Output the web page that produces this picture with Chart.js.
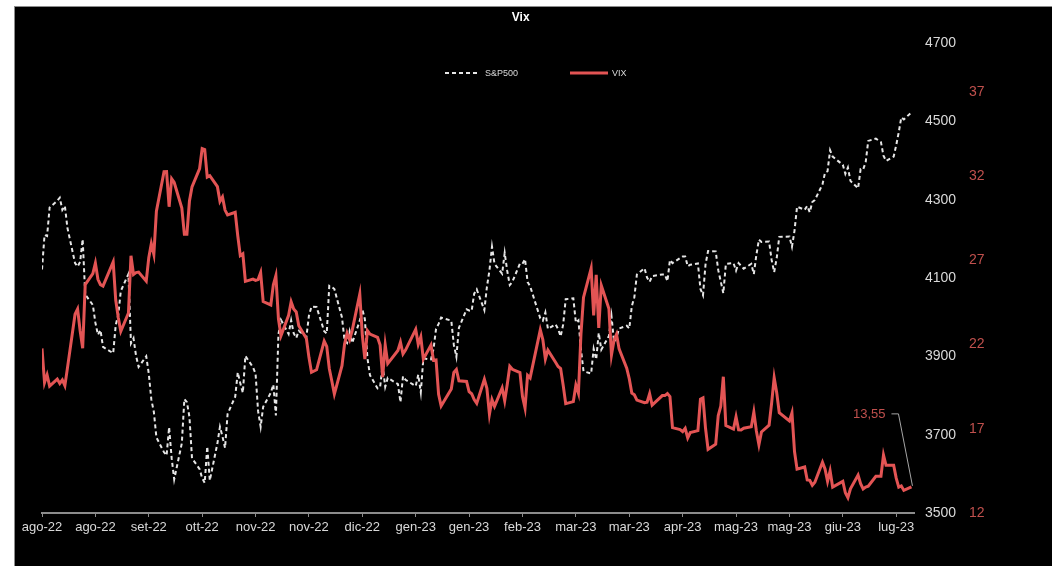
<!DOCTYPE html>
<html>
<head>
<meta charset="utf-8">
<script src="https://cdn.jsdelivr.net/npm/chart.js@4.4.1/dist/chart.umd.min.js"></script>
<style>
html,body{margin:0;padding:0;background:#fff;width:1052px;height:566px;overflow:hidden}
#panel{position:absolute;left:14px;top:6px;width:1038px;height:560px;background:#000;border-left:1px solid #8c8c8c;border-top:1px solid #8c8c8c;box-sizing:border-box}
#c{display:block;width:1037px;height:559px}
</style>
</head>
<body>
<div id="panel"><canvas id="c" width="1037" height="559"></canvas></div>
<script>
const titleText = 'Vix';
const seriesNames = ['S&P500', 'VIX'];
const tickLabels = ['ago-22','ago-22','set-22','ott-22','nov-22','nov-22','dic-22','gen-23','gen-23','feb-23','mar-23','mar-23','apr-23','mag-23','mag-23','giu-23','lug-23'];
const tickStepDays = 21;
const axisEndDay = 343;
const spxTicks = [3500,3700,3900,4100,4300,4500,4700];
const vixTicks = [12,17,22,27,32,37];
const startDate = '2022-08-09';
const endDate = '2023-07-17';
const holidays = ['2022-09-05','2022-11-24','2022-12-26','2023-01-02','2023-01-16','2023-02-20','2023-04-07','2023-05-29','2023-06-19','2023-07-04'];

const spxValues = [
4122,4210,4207,4280,4297,4305,4274,4284,4228,4138,4129,4141,4199,4058,4031,3986,3955,
3967,3924,3908,3980,4006,4067,4110,3933,3946,3901,3873,3900,3856,3790,3758,3693,3655,3647,3719,3640,3586,
3678,3791,3783,3745,3640,3612,3589,3577,3670,3583,3678,3720,3695,3666,3753,3797,3859,3831,3807,3901,3872,
3856,3760,3720,3771,3807,3828,3749,3956,3993,3957,3992,3959,3947,3965,3950,4004,4027,4026,3964,3958,4080,
4077,4072,3999,3941,3934,3964,3934,3991,4020,3995,3896,3852,3818,3822,3878,3822,3845,3829,3783,3849,3840,
3824,3853,3808,3895,3892,3919,3970,3983,3999,3991,3929,3899,3973,4020,4017,4016,4060,4071,4018,4077,
4119,4180,4136,4111,4164,4118,4082,4090,4137,4136,4148,4090,4079,3997,3991,4012,3970,3982,3970,
3951,3981,4046,4048,3986,3992,3918,3862,3856,3919,3892,3960,3917,3952,4003,3937,3949,3971,3978,3971,4028,4051,4109,
4125,4101,4090,4105,4109,4109,4092,4146,4138,4151,4155,4155,4130,4134,4137,4072,4056,4135,4169,
4168,4120,4091,4061,4136,4138,4119,4138,4131,4124,4136,4110,4159,4198,4192,4193,4146,4115,4151,4205,4206,4180,
4221,4282,4274,4284,4268,4294,4299,4339,4369,4373,4426,4410,4389,4366,4382,4348,4329,4378,4377,4396,4450,
4456,4447,4412,4399,4410,4439,4472,4510,4505,4523
];

const vixValues = [
21.77,19.74,20.20,19.53,19.95,19.69,19.90,19.56,20.60,23.80,24.11,22.82,21.78,25.56,26.21,26.83,25.87,
25.56,25.47,26.91,24.64,23.61,22.79,23.87,27.27,26.16,26.27,26.30,25.76,27.16,27.99,27.35,29.92,32.26,32.27,30.18,31.84,31.62,
30.10,28.55,28.55,30.52,31.36,32.45,33.63,33.57,31.94,32.02,31.37,30.50,30.76,29.98,29.69,29.85,28.46,27.28,27.39,25.75,25.88,
25.81,25.86,26.27,24.55,24.35,25.54,26.09,23.53,22.52,23.73,24.54,24.11,23.93,23.12,22.36,21.24,20.35,20.50,22.21,21.89,20.58,
19.84,19.06,20.75,22.01,22.68,22.29,22.83,25.00,22.55,21.14,22.83,22.62,22.42,21.97,20.07,21.97,20.87,21.65,22.14,21.44,21.67,
22.90,22.01,22.46,21.13,21.97,21.07,21.09,19.04,18.35,19.36,20.34,20.52,19.85,19.81,19.20,19.08,18.73,18.51,19.94,19.40,
17.87,18.73,18.33,19.43,18.66,19.63,20.71,20.53,20.34,18.91,18.23,20.17,20.02,22.87,22.29,21.14,21.67,20.95,20.70,
20.58,19.59,18.49,18.61,19.59,19.11,22.61,24.80,26.52,23.73,26.14,22.99,25.51,24.12,21.38,22.26,22.61,21.74,20.60,19.97,19.12,19.02,18.70,
18.55,18.58,19.08,18.40,18.97,18.97,19.09,18.91,17.07,16.95,16.83,17.03,16.46,16.77,16.89,18.76,18.84,17.03,15.78,
16.08,17.78,18.34,20.09,17.19,16.98,17.71,16.94,16.93,17.03,17.12,17.99,16.87,16.05,16.81,17.21,18.53,20.03,19.14,17.95,17.46,17.94,
15.65,14.60,14.73,13.96,13.94,13.65,13.83,15.01,14.61,13.88,14.50,13.54,13.88,13.20,12.91,13.44,14.25,13.74,13.43,13.54,13.59,
14.18,14.18,15.44,14.83,14.84,14.07,13.54,13.61,13.34,13.55
];

const FONT = "'Liberation Sans', Arial, sans-serif";
const RED = '#e35454';
const RED_TEXT = '#c0504d';
const GREY_TEXT = '#d9d9d9';

function tradingDayOffsets() {
  const out = [];
  const s = Date.parse(startDate + 'T00:00:00Z');
  const e = Date.parse(endDate + 'T00:00:00Z');
  const hol = new Set(holidays);
  for (let t = s; t <= e; t += 86400000) {
    const d = new Date(t);
    const wd = d.getUTCDay();
    if (wd === 0 || wd === 6) continue;
    if (hol.has(d.toISOString().slice(0, 10))) continue;
    out.push(Math.round((t - s) / 86400000));
  }
  return out;
}
const dayOffsets = tradingDayOffsets();
const spxData = spxValues.map((v, i) => ({ x: dayOffsets[i], y: v }));
const vixData = vixValues.map((v, i) => ({ x: dayOffsets[i], y: v }));

const decor = {
  id: 'decor',
  afterDatasetsDraw(chart) {
    const ctx = chart.ctx;
    const ca = chart.chartArea;
    ctx.save();
    // title
    ctx.fillStyle = '#ffffff';
    ctx.font = 'bold 12px ' + FONT;
    ctx.textAlign = 'center';
    ctx.textBaseline = 'middle';
    ctx.fillText(titleText, ca.left + (ca.right - ca.left) * 0.549, 11);
    // legend
    const ly = ca.top + 30;
    const lx = ca.left + 403;
    ctx.font = '9px ' + FONT;
    ctx.textAlign = 'left';
    ctx.fillStyle = GREY_TEXT;
    ctx.strokeStyle = '#e6e6e6';
    ctx.lineWidth = 2;
    ctx.setLineDash([4, 3]);
    ctx.beginPath(); ctx.moveTo(lx, ly); ctx.lineTo(lx + 35, ly); ctx.stroke();
    ctx.setLineDash([]);
    ctx.fillText(seriesNames[0], lx + 40, ly + 0.5);
    ctx.strokeStyle = RED;
    ctx.lineWidth = 3;
    ctx.beginPath(); ctx.moveTo(lx + 125, ly); ctx.lineTo(lx + 163, ly); ctx.stroke();
    ctx.fillText(seriesNames[1], lx + 167, ly + 0.5);
    // last value annotation
    const meta = chart.getDatasetMeta(1);
    const last = meta.data[meta.data.length - 1];
    const px = last.x, py = last.y;
    ctx.strokeStyle = '#a6a6a6';
    ctx.lineWidth = 1;
    ctx.beginPath();
    ctx.moveTo(px - 20, py - 73);
    ctx.lineTo(px - 13, py - 73);
    ctx.lineTo(px + 1, py - 1);
    ctx.stroke();
    ctx.fillStyle = RED_TEXT;
    ctx.font = '13px ' + FONT;
    ctx.textAlign = 'right';
    ctx.fillText(vixValues[vixValues.length - 1].toFixed(2).replace('.', ','), px - 26, py - 72);
    ctx.restore();
  }
};

new Chart(document.getElementById('c'), {
  type: 'line',
  data: {
    datasets: [
      { label: seriesNames[0], data: spxData, yAxisID: 'ySpx', borderColor: '#e6e6e6', borderWidth: 2, borderDash: [4, 3], pointRadius: 0, tension: 0, order: 1 },
      { label: seriesNames[1], data: vixData, yAxisID: 'yVix', borderColor: RED, borderWidth: 3, pointRadius: 0, tension: 0, order: 0 }
    ]
  },
  options: {
    responsive: false,
    animation: false,
    layout: { padding: { left: 27, top: 36, right: 54, bottom: 29 } },
    plugins: { legend: { display: false }, title: { display: false }, tooltip: { enabled: false } },
    scales: {
      x: {
        type: 'linear', min: 0, max: axisEndDay, position: 'bottom',
        afterBuildTicks: s => { s.ticks = tickLabels.map((_, i) => ({ value: i * tickStepDays })); },
        ticks: {
          callback: v => tickLabels[Math.round(v / tickStepDays)] ?? '',
          color: GREY_TEXT, font: { family: FONT, size: 13 }, maxRotation: 0, minRotation: 0, autoSkip: false, padding: 3
        },
        grid: { display: true, drawOnChartArea: false, drawTicks: true, tickLength: 4, color: '#8c8c8c', lineWidth: 1 },
        border: { display: true, color: '#8c8c8c', width: 2 },
        afterFit: s => { s.height = 24; }
      },
      ySpx: {
        type: 'linear', position: 'right', weight: 1, min: 3500, max: 4700,
        afterBuildTicks: s => { s.ticks = spxTicks.map(v => ({ value: v })); },
        ticks: { callback: v => String(v), color: GREY_TEXT, font: { family: FONT, size: 14 }, padding: 11 },
        grid: { display: false, drawTicks: false },
        border: { display: false },
        afterFit: s => { s.width = 44; }
      },
      yVix: {
        type: 'linear', position: 'right', weight: 2, min: 12, max: 39.9,
        afterBuildTicks: s => { s.ticks = vixTicks.map(v => ({ value: v })); },
        ticks: { callback: v => String(v), color: RED_TEXT, font: { family: FONT, size: 14 }, padding: 11 },
        grid: { display: false, drawTicks: false },
        border: { display: false },
        afterFit: s => { s.width = 40; }
      }
    }
  },
  plugins: [decor]
});
</script>
</body>
</html>
